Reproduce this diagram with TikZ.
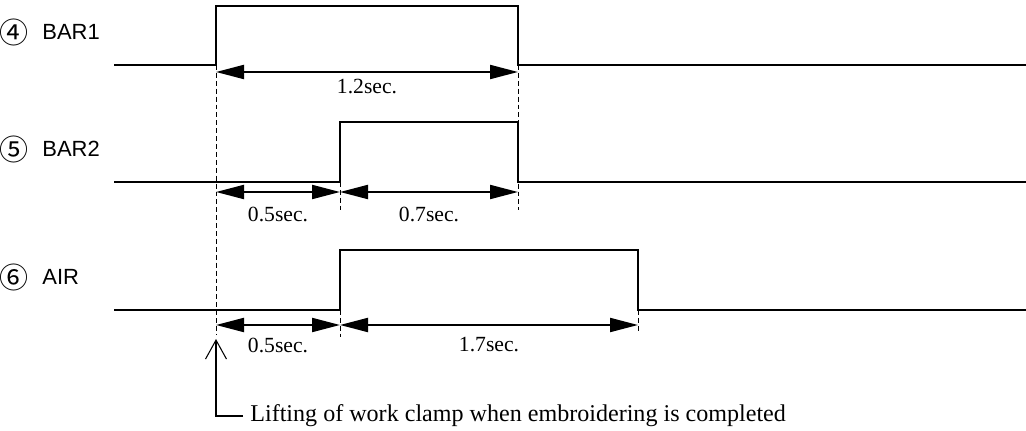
\documentclass[tikz,border=0pt]{standalone}
\usepackage{fontspec}
\setmainfont{Liberation Serif}
\setsansfont{Liberation Sans}
\newfontfamily\circfont{Noto Sans CJK JP}
\usetikzlibrary{arrows.meta}

\tikzset{
	signal/.style={line width=1.15pt},
	dimarrow/.style={line width=1.15pt,
		{Triangle[length=0.56cm,width=0.28cm]}-{Triangle[length=0.56cm,width=0.28cm]}},
	guide/.style={line width=0.55pt,dash pattern=on 2.8pt off 1.7pt},
	pointer/.style={line width=0.6pt,-{Straight Barb[length=0.38cm,width=0.42cm]}},
	timelbl/.style={font=\fontsize{12.3}{14}\selectfont,inner sep=0pt},
	signame/.style={font=\sffamily\fontsize{12.5}{14}\selectfont,anchor=west,inner sep=0pt},
	signum/.style={font=\circfont\fontsize{16.5}{18}\selectfont,inner sep=0pt},
}

\begin{document}
\begin{tikzpicture}[x=0.2mm,y=-0.2mm]
	\useasboundingbox (0,0) rectangle (1026,431);
	% waveforms: row / low / high / rise / fall / name / number
	\foreach \r/\lo/\hi/\up/\dn/\lbl/\num in {%
		1/65/6/216/518/BAR1/④,%
		2/182/122/340/518/BAR2/⑤,%
		3/310/250/340/638/AIR/⑥}{
		\node[signum] (num\r) at (14,\lo-33) {\num};
		\node[signame] (name\r) at (42,\lo-33) {\lbl};
		\draw[signal] (114,\lo) -| (\up,\hi) -| (\dn,\lo) -- (1026,\lo);
	}
	% timing marks
	\foreach \n/\x/\y in {a1/216/72,b1/518/72,%
		a2/216/192,m2/340/192,b2/518/192,%
		a3/216/325,m3/340/325,b3/638/325}{
		\coordinate (\n) at (\x,\y);
	}
	\draw[dimarrow] (a1) -- (b1);
	\draw[dimarrow] (a2) -- (m2);
	\draw[dimarrow] (m2) -- (b2);
	\draw[dimarrow] (a3) -- (m3);
	\draw[dimarrow] (m3) -- (b3);
	\node[timelbl] (t1) at (367,87) {1.2sec.};
	\node[timelbl] (t2) at (278,214) {0.5sec.};
	\node[timelbl] (t3) at (429,214) {0.7sec.};
	\node[timelbl] (t4) at (278,345) {0.5sec.};
	\node[timelbl] (t5) at (489,345) {1.7sec.};
	% dashed guides
	\draw[guide] (216,65) -- (216,335);
	\draw[guide] (340,182) -- (340,210);
	\draw[guide] (340,310) -- (340,337);
	\draw[guide] (518,65) -- (518,210);
	\draw[guide] (638,310) -- (638,332);
	% clamp note
	\coordinate (clamp) at (216,339);
	\node[anchor=west,inner xsep=0.14cm,inner ysep=0pt,font=\fontsize{13.7}{16}\selectfont]
		(note) at (243,416) {Lifting of work clamp when embroidering is completed};
	\draw[pointer] (note.west) -| (clamp);
\end{tikzpicture}
\end{document}
